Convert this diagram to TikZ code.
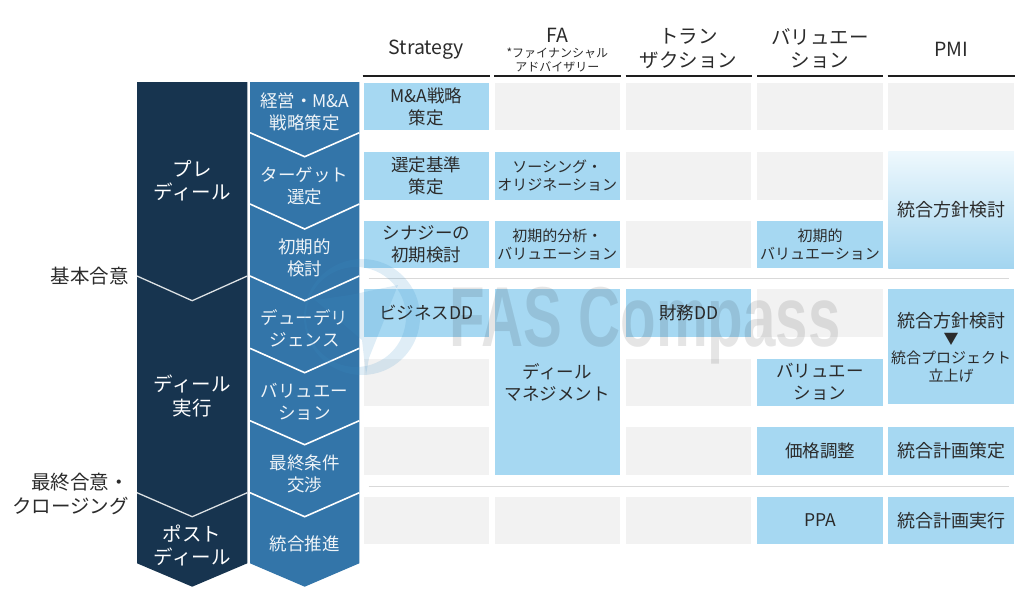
\documentclass[tikz,border=0pt]{standalone}
\usepackage{fontspec}
\setmainfont{Noto Sans CJK JP}
\newfontfamily\markfont{Liberation Sans}[BoldFont={Liberation Sans Bold}]
\definecolor{navy}{HTML}{17344F}
\definecolor{stepblue}{HTML}{3375A9}
\definecolor{cellblue}{HTML}{A6D8F2}
\definecolor{fadeblue}{HTML}{EEF8FD}
\definecolor{cellgrey}{HTML}{F2F2F2}
\definecolor{inktext}{HTML}{2B2B2B}
\definecolor{ringblue}{HTML}{3A8FC8}

\begin{document}
\begin{tikzpicture}[x=1pt,y=-1pt,
    txt/.style={inner sep=0pt,text=inktext,align=center,yshift=-.7pt},
    big/.style={font=\fontsize{19.5}{23.5}\selectfont},
    mid/.style={font=\fontsize{17.5}{22}\selectfont},
    small/.style={font=\fontsize{15}{18}\selectfont},
    phase/.style={txt,big,text=white},
    stage/.style={txt,font=\fontsize{17.5}{22}\selectfont,text=white!92!stepblue},
    cell/.style={inner sep=0pt,minimum width=125.5pt,minimum height=47.5pt,
                 text=inktext,align=center,mid},
    grey cell/.style={cell,fill=cellgrey},
    blue cell/.style={cell,fill=cellblue}]
  \useasboundingbox (0,0) rectangle (1024,602);

  % chevron columns
  \fill[navy] (137,82) -- (247.3,82) -- (247.3,563.3) -- (192.2,586.7) -- (137,563.3) -- cycle;
  \fill[stepblue] (250,82) -- (359.3,82) -- (359.3,563.3) -- (304.7,586.7) -- (250,563.3) -- cycle;
  \foreach \ya/\yb in {132.7/156.7,204/229,276/300.7,348.3/372.7,420.7/444.7,492.7/516.7}
    \draw[white,line width=1.6pt] (250,\ya) -- (304.7,\yb) -- (359.3,\ya);
  \foreach \ya/\yb in {276/300.7,492.7/516.7}
    \draw[white!85!navy,line width=1.3pt] (137,\ya) -- (192.2,\yb) -- (247.3,\ya);

  \node[phase] (pre) at (192.2,180) {プレ\\ディール};
  \node[phase] (deal) at (192.2,395.5) {ディール\\実行};
  \node[phase] (post) at (192.2,545) {ポスト\\ディール};

  \node[stage] (s1) at (304.7,111) {経営・M\&A\\戦略策定};
  \node[stage] (s2) at (304.7,185) {ターゲット\\選定};
  \node[stage] (s3) at (304.7,256.7) {初期的\\検討};
  \node[stage] (s4) at (304.7,328) {デューデリ\\ジェンス};
  \node[stage] (s5) at (304.7,401.3) {バリュエー\\ション};
  \node[stage] (s6) at (304.7,472.8) {最終条件\\交渉};
  \node[stage] (s7) at (304.7,543.3) {統合推進};

  \node[txt,big,anchor=east] (agree) at (129,275) {基本合意};
  \node[txt,big,anchor=east,align=right] (close) at (129,493.5) {最終合意・\\クロージング};

  % headers
  \foreach \xa/\xb in {362.5/489.5,494/620.7,625.7/752,757/883.3,887.5/1014.7}
    \draw[inktext!70!black,line width=2pt] (\xa,75.5) -- (\xb,75.5);
  \node[txt,big] (hstrat) at (426.3,49) {Strategy};
  \node[txt,big] (hfa) at (557.3,35) {FA};
  \node[txt,font=\fontsize{12}{14}\selectfont] (hnote) at (557.3,59.7) {*ファイナンシャル\\アドバイザリー};
  \node[txt,big] (htrans) at (688.7,48) {トラン\\ザクション};
  \node[txt,big] (hval) at (820,48) {バリュエー\\ション};
  \node[txt,big] (hpmi) at (951,48.5) {PMI};

  % empty cells
  \foreach \cx/\cy in {557.3/106.5,688.7/106.5,820/106.5,951/106.5,
                       688.7/175.8,820/175.8,688.7/244.5,
                       820/313,426.3/382.3,688.7/382.3,
                       426.3/451,688.7/451,
                       426.3/520.3,557.3/520.3,688.7/520.3}
    \node[grey cell] at (\cx,\cy) {};

  % filled cells
  \node[blue cell] (a1) at (426.3,106.5) {M\&A戦略\\策定};
  \node[blue cell] (a2) at (426.3,175.8) {選定基準\\策定};
  \node[blue cell] (a3) at (426.3,244.5) {シナジーの\\初期検討};
  \node[blue cell] (a4) at (426.3,313) {ビジネスDD};
  \node[blue cell,small] (b2) at (557.3,175.8) {ソーシング・\\オリジネーション};
  \node[blue cell,small] (b3) at (557.3,244.5) {初期的分析・\\バリュエーション};
  \node[blue cell,minimum height=185.7pt] (b4) at (557.3,381.9) {};
  \node[txt,mid] (b4text) at (557.3,381.7) {ディール\\マネジメント};
  \node[blue cell] (c4) at (688.7,313) {財務DD};
  \node[blue cell,small] (d3) at (820,244.5) {初期的\\バリュエーション};
  \node[blue cell] (d5) at (820,382.3) {バリュエー\\ション};
  \node[blue cell] (d6) at (820,451) {価格調整};
  \node[blue cell] (d7) at (820,520.3) {PPA};
  \node[cell,minimum height=116.6pt,top color=fadeblue,middle color=cellblue,bottom color=cellblue!97!stepblue,font=\fontsize{18}{22}\selectfont] (e2) at (951,210) {統合方針検討};
  \node[blue cell,minimum height=114.7pt] (e4) at (951,346.4) {};
  \node[txt,font=\fontsize{18}{22}\selectfont] (e4a) at (951,320) {統合方針検討};
  \node[txt,font=\fontsize{15}{15}\selectfont] (e4b) at (951,339) {▼};
  \node[txt,small] (e4c) at (951,366.5) {統合プロジェクト\\立上げ};
  \node[blue cell,font=\fontsize{18}{22}\selectfont] (e6) at (951,451) {統合計画策定};
  \node[blue cell,font=\fontsize{18}{22}\selectfont] (e7) at (951,520.3) {統合計画実行};

  % separators
  \draw[black!15,line width=1.2pt] (368.5,278.7) -- (1009,278.7);
  \draw[black!15,line width=1.2pt] (368.5,486.3) -- (1009,486.3);

  % watermark
  \fill[ringblue,opacity=.16,even odd rule] (362,317) circle (58pt) (356,317) circle (50pt);
  \fill[ringblue,opacity=.16] (398,285) -- (369,358) -- (366,375) -- (362,340) -- (315,300) -- (350,295) -- cycle;
  \node[inner sep=0pt,anchor=base west,opacity=.1,text=black,xscale=.685,
        font=\markfont\bfseries\fontsize{85}{85}\selectfont] (mark) at (449,346.7) {FAS Compass};
\end{tikzpicture}
\end{document}
